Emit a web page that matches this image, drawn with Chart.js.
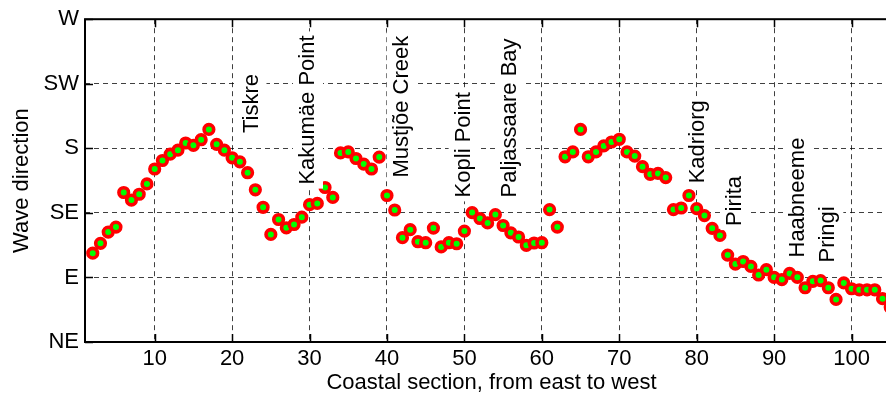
<!DOCTYPE html>
<html>
<head>
<meta charset="utf-8">
<script src="https://cdn.jsdelivr.net/npm/chart.js@4/dist/chart.umd.min.js"></script>
<style>
  html, body { margin: 0; padding: 0; background: #fff; overflow: hidden; }
  #wrap { width: 910px; height: 397px; }
</style>
</head>
<body>
<div id="wrap"><canvas id="waveChart" width="910" height="397"></canvas></div>
<script>
// coastal sections (east -> west) and mean wave direction in degrees
const sections = [
  2, 3, 4, 5, 6, 7, 8, 9, 10, 11, 12, 13, 14, 15, 16, 17, 18, 19, 20, 21,
  22, 23, 24, 25, 26, 27, 28, 29, 30, 31, 32, 33, 34, 35, 36, 37, 38, 39, 40, 41,
  42, 43, 44, 45, 46, 47, 48, 49, 50, 51, 52, 53, 54, 55, 56, 57, 58, 59, 60, 61,
  62, 63, 64, 65, 66, 67, 68, 69, 70, 71, 72, 73, 74, 75, 76, 77, 78, 79, 80, 81,
  82, 83, 84, 85, 86, 87, 88, 89, 90, 91, 92, 93, 94, 95, 96, 97, 98, 99, 100, 101,
  102, 103, 104, 105
];
const directions = [
  106.9, 113.8, 121.6, 125.1, 149.2, 143.9, 148.0, 155.2, 165.6, 171.5, 175.9, 178.7, 183.7, 182.1, 186.0, 193.2, 182.8, 178.7, 173.4, 170.6,
  163.0, 151.1, 138.9, 120.0, 130.4, 124.6, 126.9, 132.0, 140.7, 141.6, 152.7, 145.8, 176.8, 177.5, 172.9, 169.0, 165.6, 173.9, 147.1, 137.0,
  117.7, 123.3, 114.9, 114.2, 124.4, 111.3, 114.2, 113.5, 122.3, 135.2, 131.1, 128.0, 133.8, 126.2, 121.1, 118.2, 112.4, 114.0, 114.2, 137.3,
  125.1, 174.1, 177.5, 193.2, 174.1, 177.5, 181.7, 184.4, 186.3, 177.5, 174.6, 167.2, 161.9, 162.5, 159.6, 137.3, 138.4, 147.1, 138.0, 133.1,
  124.2, 119.3, 105.6, 99.3, 101.1, 97.7, 91.7, 95.4, 90.1, 88.5, 92.8, 90.1, 82.8, 87.3, 87.8, 82.8, 74.7, 86.2, 82.1, 81.4,
  81.4, 81.4, 75.2, 69.2
];

const compassDegrees = [45, 90, 135, 180, 225, 270];
const compassLabels = ['NE', 'E', 'SE', 'S', 'SW', 'W'];
const xTickValues = [10, 20, 30, 40, 50, 60, 70, 80, 90, 100];

// place names written along the coast
const placeNames = ['Tiskre', 'Kakumäe Point', 'Mustjõe Creek', 'Kopli Point', 'Paljassaare Bay', 'Kadriorg', 'Pirita', 'Haabneeme', 'Pringi'];
const placeSections = [22.5, 29.8, 41.9, 49.9, 55.9, 80.2, 85.0, 93.1, 97.0];
const placeDirections = [190.6, 154.7, 159.6, 145.8, 145.8, 155.6, 125.8, 103.9, 100.4];

const FONT = '"Liberation Sans", Arial, Helvetica, sans-serif';

const axesFrame = {
  id: 'axesFrame',
  beforeDatasetsDraw(chart) {
    const { ctx, chartArea: a, scales: { x, y } } = chart;
    ctx.save();
    ctx.strokeStyle = '#000';
    ctx.lineWidth = 1.5;
    ctx.beginPath();
    // inward tick marks
    xTickValues.forEach(v => {
      const px = Math.round(x.getPixelForValue(v)) + 0.5;
      ctx.moveTo(px, a.bottom); ctx.lineTo(px, a.bottom - 8);
      ctx.moveTo(px, a.top); ctx.lineTo(px, a.top + 8);
    });
    compassDegrees.forEach(v => {
      const py = Math.round(y.getPixelForValue(v)) + 0.5;
      ctx.moveTo(a.left, py); ctx.lineTo(a.left + 8, py);
      ctx.moveTo(a.right, py); ctx.lineTo(a.right - 8, py);
    });
    ctx.stroke();
    ctx.lineWidth = 2;
    ctx.strokeRect(a.left, a.top, a.right - a.left, a.bottom - a.top);
    ctx.restore();
  }
};

const placeLabels = {
  id: 'placeLabels',
  afterDatasetsDraw(chart) {
    const { ctx, scales: { x, y } } = chart;
    ctx.save();
    ctx.font = '22px ' + FONT;
    placeNames.forEach((name, i) => {
      const px = x.getPixelForValue(placeSections[i]);
      const py = y.getPixelForValue(placeDirections[i]);
      const w = ctx.measureText(name).width;
      ctx.save();
      ctx.translate(px, py);
      ctx.rotate(-Math.PI / 2);
      ctx.fillStyle = '#fff';
      ctx.fillRect(-4, -15, w + 8, 30);
      ctx.fillStyle = '#000';
      ctx.textAlign = 'left';
      ctx.textBaseline = 'middle';
      ctx.fillText(name, 0, 0);
      ctx.restore();
    });
    ctx.restore();
  }
};

const ctx = document.getElementById('waveChart').getContext('2d');
const waveChart = new Chart(ctx, {
  type: 'scatter',
  data: {
    datasets: [{
      label: 'Wave direction',
      data: sections.map((s, i) => ({ x: s, y: directions[i] })),
      backgroundColor: '#00ff00',
      borderColor: '#ff0000',
      borderWidth: 3.6,
      pointRadius: 4.8,
      pointHoverRadius: 4.8,
      showLine: false
    }]
  },
  options: {
    responsive: false,
    animation: false,
    devicePixelRatio: 1,
    layout: { padding: { top: 16, right: 12, bottom: 0, left: 0 } },
    plugins: {
      legend: { display: false },
      tooltip: { enabled: false }
    },
    scales: {
      x: {
        type: 'linear',
        min: 1,
        max: 106,
        afterBuildTicks: scale => { scale.ticks = xTickValues.map(v => ({ value: v })); },
        afterFit: scale => { scale.height = 55; },
        border: { display: false, dash: [5, 4] },
        grid: { color: 'rgba(0,0,0,0.75)', lineWidth: 1, drawTicks: false },
        ticks: {
          padding: 4,
          color: '#000',
          font: { size: 22, family: FONT },
          maxRotation: 0
        },
        title: {
          display: true,
          text: 'Coastal section, from east to west',
          color: '#000',
          font: { size: 22, family: FONT },
          padding: { top: 0, bottom: 1 }
        }
      },
      y: {
        min: 45,
        max: 270,
        afterBuildTicks: scale => { scale.ticks = compassDegrees.map(v => ({ value: v })); },
        afterFit: scale => { scale.width = 85; },
        border: { display: false, dash: [5, 4] },
        grid: { color: 'rgba(0,0,0,0.75)', lineWidth: 1, drawTicks: false },
        ticks: {
          padding: 6,
          color: '#000',
          font: { size: 22, family: FONT },
          callback: v => compassLabels[compassDegrees.indexOf(v)]
        },
        title: {
          display: true,
          text: 'Wave direction',
          color: '#000',
          font: { size: 22, family: FONT },
          padding: { top: 9, bottom: 0 }
        }
      }
    }
  },
  plugins: [axesFrame, placeLabels]
});
</script>
</body>
</html>
